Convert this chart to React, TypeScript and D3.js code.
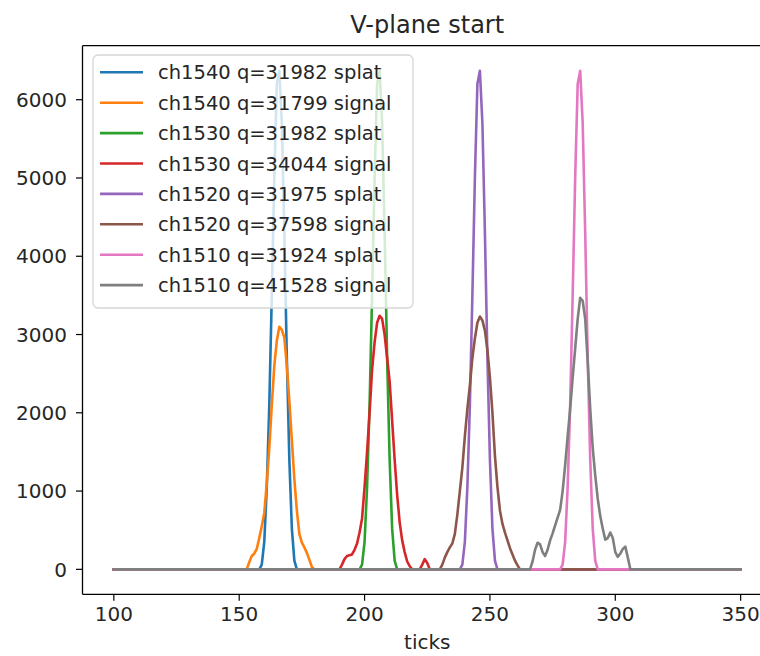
import React from "react";
import * as d3 from "d3";

type Pt = [number, number];

// Data (tick, value); zero elsewhere within 100..350
const blueSplat1540: Pt[] = [[100,0],[158,0],[159,60],[160,350],[161,1050],[162,2100],[163,3500],[164,5000],[165,6200],[166,6370],[167,5700],[168,4300],[169,2700],[170,1400],[171,520],[172,110],[173,0],[350,0]];
const orangeSignal1540: Pt[] = [[100,0],[153,0],[154,90],[155,170],[156,200],[157,260],[158,400],[159,550],[160,720],[161,1100],[162,1550],[163,2100],[164,2600],[165,2920],[166,3100],[167,3060],[168,2960],[169,2600],[170,2150],[171,1650],[172,1150],[173,750],[174,450],[175,340],[176,280],[177,210],[178,120],[179,30],[180,0],[350,0]];
const greenSplat1530: Pt[] = [[100,0],[198,0],[199,60],[200,350],[201,1050],[202,2100],[203,3500],[204,5000],[205,6200],[206,6370],[207,5700],[208,4300],[209,2700],[210,1400],[211,520],[212,110],[213,0],[350,0]];
const redSignal1530: Pt[] = [[100,0],[190,0],[191,60],[192,130],[193,170],[194,180],[195,190],[196,250],[197,330],[198,470],[199,650],[200,1050],[201,1500],[202,2000],[203,2550],[204,2900],[205,3150],[206,3240],[207,3200],[208,3000],[209,2700],[210,2400],[211,1900],[212,1400],[213,950],[214,600],[215,370],[216,220],[217,100],[218,40],[219,0],[222,0],[223,60],[224,130],[225,80],[226,0],[350,0]];
const purpleSplat1520: Pt[] = [[100,0],[238,0],[239,60],[240,350],[241,1050],[242,2100],[243,3500],[244,5000],[245,6200],[246,6370],[247,5700],[248,4300],[249,2700],[250,1400],[251,520],[252,110],[253,0],[350,0]];
const brownSignal1520: Pt[] = [[100,0],[230,0],[231,60],[232,150],[233,220],[234,280],[235,330],[236,450],[237,700],[238,1000],[239,1300],[240,1700],[241,2050],[242,2350],[243,2700],[244,2950],[245,3150],[246,3230],[247,3180],[248,3050],[249,2800],[250,2450],[251,2000],[252,1450],[253,1050],[254,750],[255,580],[256,470],[257,370],[258,270],[259,190],[260,110],[261,50],[262,0],[350,0]];
const pinkSplat1510: Pt[] = [[100,0],[278,0],[279,60],[280,350],[281,1050],[282,2100],[283,3500],[284,5000],[285,6200],[286,6370],[287,5700],[288,4300],[289,2700],[290,1400],[291,520],[292,110],[293,0],[350,0]];
const graySignal1510: Pt[] = [[100,0],[266,0],[267,100],[268,250],[269,340],[270,320],[271,220],[272,170],[273,250],[274,370],[275,460],[276,560],[277,660],[278,760],[279,1000],[280,1330],[281,1700],[282,2050],[283,2450],[284,2820],[285,3200],[286,3470],[287,3430],[288,3200],[289,2650],[290,2050],[291,1550],[292,1200],[293,900],[294,680],[295,520],[296,380],[297,400],[298,470],[299,400],[300,220],[301,160],[302,200],[303,260],[304,290],[305,150],[306,0],[350,0]];

const seriesLabels = [
  "ch1540 q=31982 splat",
  "ch1540 q=31799 signal",
  "ch1530 q=31982 splat",
  "ch1530 q=34044 signal",
  "ch1520 q=31975 splat",
  "ch1520 q=37598 signal",
  "ch1510 q=31924 splat",
  "ch1510 q=41528 signal",
];
const seriesData = [blueSplat1540, orangeSignal1540, greenSplat1530, redSignal1530, purpleSplat1520, brownSignal1520, pinkSplat1510, graySignal1510];
const seriesColors = ["#1f77b4", "#ff7f0e", "#2ca02c", "#d62728", "#9467bd", "#8c564b", "#e377c2", "#7f7f7f"];

const xTicks = [100, 150, 200, 250, 300, 350];
const yTicks = [0, 1000, 2000, 3000, 4000, 5000, 6000];

const W = 760, H = 656;
const left = 82.5, right = 772, top = 45.7, bottom = 594.3;
const font = "'DejaVu Sans', sans-serif";

export default function App() {
  const x = d3.scaleLinear().domain([87.5, 362.5]).range([left, right]);
  const y = d3.scaleLinear().domain([-319, 6690]).range([bottom, top]);
  const line = d3.line<Pt>().x(d => x(d[0])).y(d => y(d[1]));

  const legX = 93, legY = 55, legW = 320, legH = 253;
  const rowY0 = 72.3, rowStep = 30.4;

  return (
    <svg width={W} height={H} style={{ position: "absolute", left: 0, top: 0, background: "#fff" }} fontFamily={font}>
      <rect x={0} y={0} width={W} height={H} fill="#fff" />
      <defs>
        <clipPath id="plotClip">
          <rect x={left} y={top} width={right - left} height={bottom - top} />
        </clipPath>
      </defs>
      <g clipPath="url(#plotClip)">
        {seriesData.map((s, i) => (
          <path key={i} d={line(s) || ""} fill="none" stroke={seriesColors[i]} strokeWidth={2.6} strokeLinejoin="round" strokeLinecap="square" />
        ))}
      </g>
      {/* spines (right spine lies beyond the visible 760px) */}
      <line x1={left} x2={left} y1={top} y2={bottom} stroke="#000" strokeWidth={1.3} />
      <line x1={left} x2={W} y1={top} y2={top} stroke="#000" strokeWidth={1.3} />
      <line x1={left} x2={W} y1={bottom} y2={bottom} stroke="#000" strokeWidth={1.3} />
      {/* x ticks */}
      {xTicks.map(t => (
        <g key={t}>
          <line x1={x(t)} x2={x(t)} y1={bottom} y2={bottom + 6.5} stroke="#000" strokeWidth={1.2} />
          <text x={x(t)} y={621} textAnchor="middle" fontSize={20} fill="#262626">{t}</text>
        </g>
      ))}
      {/* y ticks */}
      {yTicks.map(t => (
        <g key={t}>
          <line x1={left - 6.5} x2={left} y1={y(t)} y2={y(t)} stroke="#000" strokeWidth={1.2} />
          <text x={67} y={y(t)} dy="0.36em" textAnchor="end" fontSize={20} fill="#262626">{t}</text>
        </g>
      ))}
      <text x={(left + right) / 2} y={649} textAnchor="middle" fontSize={20} fill="#262626">ticks</text>
      <text x={(left + right) / 2} y={33} textAnchor="middle" fontSize={24} fill="#262626">V-plane start</text>
      {/* legend */}
      <rect x={legX} y={legY} width={legW} height={legH} rx={5} ry={5} fill="#fff" fillOpacity={0.8} stroke="#d6d6d6" strokeWidth={1.3} />
      {seriesLabels.map((lab, i) => (
        <g key={lab}>
          <line x1={100} x2={143} y1={rowY0 + i * rowStep} y2={rowY0 + i * rowStep} stroke={seriesColors[i]} strokeWidth={2.6} />
          <text x={158} y={rowY0 + i * rowStep} dy="0.36em" fontSize={19.5} fill="#262626">{lab}</text>
        </g>
      ))}
    </svg>
  );
}
